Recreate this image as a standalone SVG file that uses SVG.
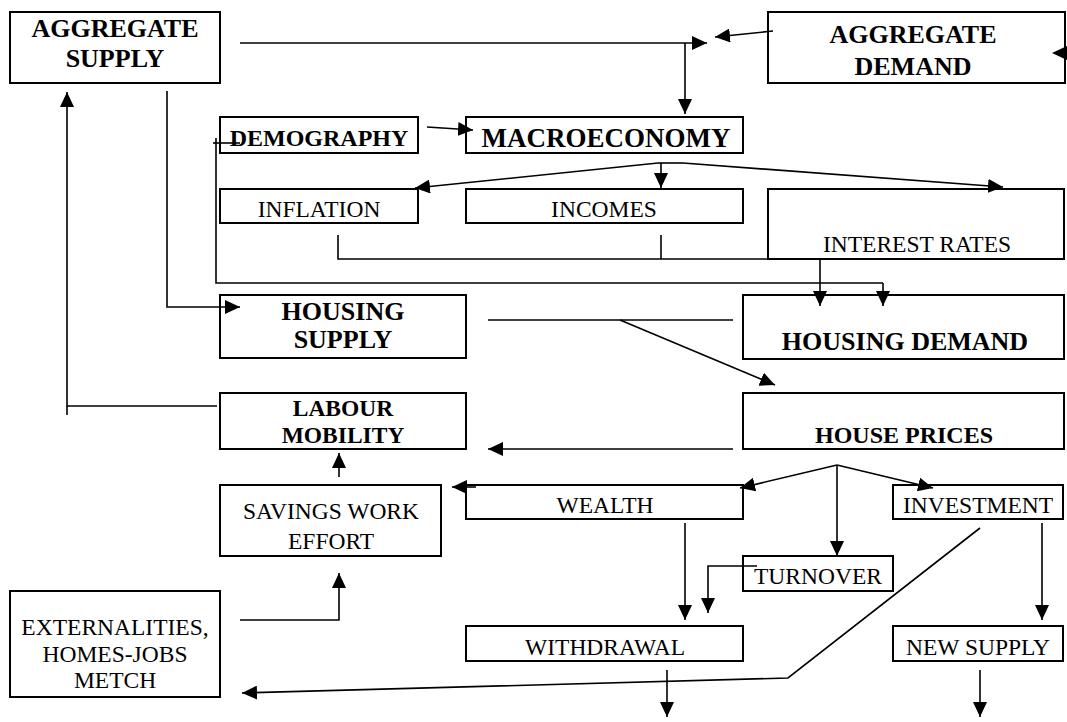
<svg xmlns="http://www.w3.org/2000/svg" width="1067" height="722" viewBox="0 0 1067 722">
<defs>
<marker id="ah" markerUnits="userSpaceOnUse" markerWidth="16" markerHeight="14" refX="15" refY="7" orient="auto">
<path d="M0,0 L15,7 L0,14 z" fill="#000"/>
</marker>
<style>
.box{fill:#fff;stroke:#000;stroke-width:2}
.c{fill:none;stroke:#000;stroke-width:1.6}
.a{fill:none;stroke:#000;stroke-width:1.6;marker-end:url(#ah)}
text{font-family:"Liberation Serif","Times New Roman",serif;fill:#000;text-anchor:middle}
.b{font-weight:bold}
.r{font-size:23.5px}
</style>
</defs>
<rect width="1067" height="722" fill="#fff"/>

<g id="aggregate-supply">
<rect class="box" x="10" y="12" width="210" height="71"/>
<text class="b" x="115" y="37" font-size="26">AGGREGATE</text>
<text class="b" x="115" y="67" font-size="26">SUPPLY</text>
</g>
<g id="aggregate-demand">
<rect class="box" x="768" y="12" width="297" height="71"/>
<text class="b" x="913" y="43" font-size="26">AGGREGATE</text>
<text class="b" x="913" y="75" font-size="26">DEMAND</text>
</g>
<g id="demography">
<rect class="box" x="220" y="117" width="198" height="36"/>
<text class="b" x="319" y="146" font-size="24">DEMOGRAPHY</text>
</g>
<g id="macroeconomy">
<rect class="box" x="466" y="117" width="277" height="36"/>
<text class="b" x="606" y="147" font-size="27">MACROECONOMY</text>
</g>
<g id="inflation">
<rect class="box" x="220" y="189" width="198" height="34"/>
<text class="r" x="319" y="217">INFLATION</text>
</g>
<g id="incomes">
<rect class="box" x="466" y="189" width="277" height="34"/>
<text class="r" x="604" y="217">INCOMES</text>
</g>
<g id="interest-rates">
<rect class="box" x="768" y="189" width="296" height="70"/>
<text class="r" x="917" y="252">INTEREST RATES</text>
</g>
<g id="housing-supply">
<rect class="box" x="220" y="295" width="246" height="63"/>
<text class="b" x="343" y="320" font-size="26">HOUSING</text>
<text class="b" x="343" y="348" font-size="26">SUPPLY</text>
</g>
<g id="housing-demand">
<rect class="box" x="743" y="295" width="321" height="64"/>
<text class="b" x="905" y="350" font-size="26">HOUSING DEMAND</text>
</g>
<g id="labour-mobility">
<rect class="box" x="220" y="393" width="246" height="56"/>
<text class="b" x="343" y="416" font-size="23.5">LABOUR</text>
<text class="b" x="343" y="443" font-size="23.5">MOBILITY</text>
</g>
<g id="house-prices">
<rect class="box" x="743" y="393" width="321" height="56"/>
<text class="b" x="904" y="443" font-size="24">HOUSE PRICES</text>
</g>
<g id="savings-work-effort">
<rect class="box" x="220" y="485" width="221" height="71"/>
<text class="r" x="331" y="519">SAVINGS WORK</text>
<text class="r" x="331" y="549">EFFORT</text>
</g>
<g id="wealth">
<rect class="box" x="466" y="485" width="277" height="34"/>
<text class="r" x="605" y="513">WEALTH</text>
</g>
<g id="investment">
<rect class="box" x="893" y="485" width="170" height="34"/>
<text class="r" x="978" y="513">INVESTMENT</text>
</g>
<g id="turnover">
<rect class="box" x="743" y="556" width="150" height="35"/>
<text class="r" x="818" y="584">TURNOVER</text>
</g>
<g id="withdrawal">
<rect class="box" x="466" y="626" width="277" height="35"/>
<text class="r" x="605" y="655">WITHDRAWAL</text>
</g>
<g id="new-supply">
<rect class="box" x="893" y="626" width="170" height="35"/>
<text class="r" x="978" y="655">NEW SUPPLY</text>
</g>
<g id="externalities">
<rect class="box" x="10" y="591" width="210" height="106"/>
<text class="r" x="115" y="635">EXTERNALITIES,</text>
<text class="r" x="115" y="662">HOMES-JOBS</text>
<text class="r" x="115" y="688">METCH</text>
</g>

<g id="connectors">
<path class="a" d="M240,43 L707,43"/>
<path class="a" d="M685,43 L685,114"/>
<path class="a" d="M773,31 L715,37"/>
<path d="M1067,46 L1052,53 L1067,60 z" fill="#000"/>
<path class="a" d="M427,127 L473,130"/>
<path class="c" d="M240,143 L213,143"/>
<path class="c" d="M216,138 L216,283 L883,283"/>
<path class="a" d="M883,283 L883,306"/>
<path class="c" d="M658,163 L683,163"/>
<path class="a" d="M658,163 L415,188"/>
<path class="a" d="M683,163 L1003,187"/>
<path class="a" d="M661,163 L661,188"/>
<path class="c" d="M338,235 L338,259 L1003,259"/>
<path class="c" d="M661,235 L661,259"/>
<path class="a" d="M820,259 L820,306"/>
<path class="a" d="M167,91 L167,307 L240,307"/>
<path class="c" d="M488,320 L733,320"/>
<path class="a" d="M620,320 L775,385"/>
<path class="a" d="M217,406 L67,406 L67,92"/>
<path class="c" d="M67,406 L67,415"/>
<path class="a" d="M733,449 L488,449"/>
<path class="a" d="M339,477 L339,453"/>
<path class="a" d="M837,465 L740,488"/>
<path class="a" d="M837,465 L933,488"/>
<path class="a" d="M837,465 L837,556"/>
<path class="a" d="M476,487 L452,487"/>
<path class="a" d="M685,523 L685,620"/>
<path class="a" d="M757,566 L708,566 L708,613"/>
<path class="a" d="M1042,523 L1042,620"/>
<path class="a" d="M667,670 L667,717"/>
<path class="a" d="M980,670 L980,717"/>
<path class="a" d="M980,528 L788,678 L242,693"/>
<path class="a" d="M240,620 L339,620 L339,573"/>
</g>
</svg>
